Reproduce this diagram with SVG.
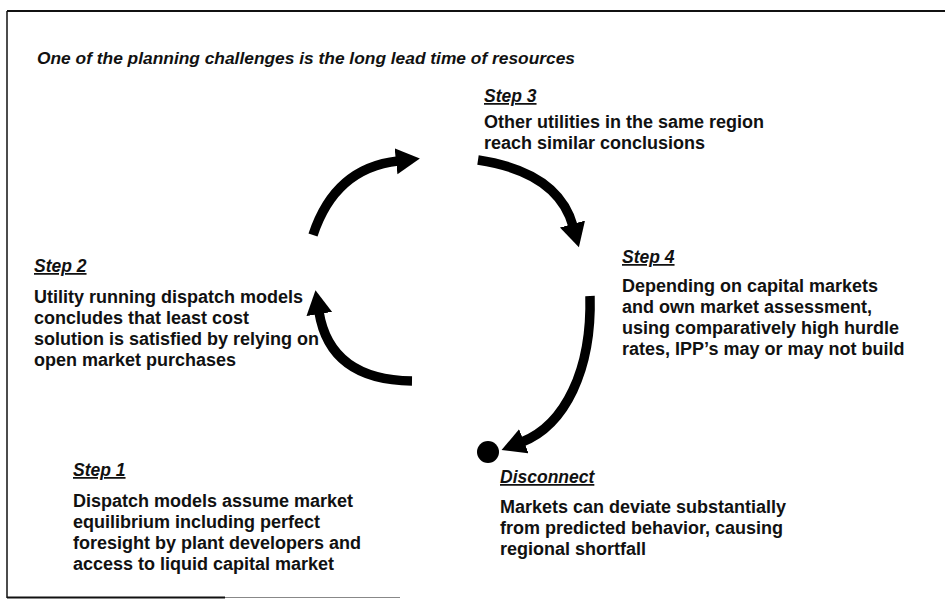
<svg xmlns="http://www.w3.org/2000/svg" width="945" height="610" viewBox="0 0 945 610">
<style>
text{font-family:"Liberation Sans",Arial,sans-serif;fill:#111;}
.t{font-size:17px;font-weight:bold;font-style:italic;}
.h{font-size:17.5px;font-weight:bold;font-style:italic;text-decoration:underline;}
.b{font-size:18px;font-weight:bold;}
.arc{fill:none;stroke:#000;stroke-width:9.5;}
</style>
<defs>
<marker id="ah" markerUnits="userSpaceOnUse" markerWidth="28" markerHeight="28" refX="2" refY="13" orient="auto" viewBox="0 0 28 28">
<path d="M0,0 L24,13 L0,26 z" fill="#000"/>
</marker>
</defs>
<rect width="945" height="610" fill="#fff"/>
<g id="frame" fill="none" stroke="#111">
<path d="M7,11 L945,11" stroke-width="2"/>
<path d="M7,11 L7,598" stroke-width="1.5"/>
<path d="M7,597.5 L225,597.5" stroke-width="2"/>
<path d="M225,597.5 L400,597.5" stroke-width="1" stroke="#888"/>
</g>
<text id="title" class="t" x="37" y="64" textLength="538" lengthAdjust="spacingAndGlyphs">One of the planning challenges is the long lead time of resources</text>
<g id="step3">
<text class="h" x="484" y="102">Step 3</text>
<text class="b" x="484" y="128">Other utilities in the same region</text>
<text class="b" x="484" y="149">reach similar conclusions</text>
</g>
<g id="step4">
<text class="h" x="622" y="263">Step 4</text>
<text class="b" x="622" y="292">Depending on capital markets</text>
<text class="b" x="622" y="313">and own market assessment,</text>
<text class="b" x="622" y="334">using comparatively high hurdle</text>
<text class="b" x="622" y="355">rates, IPP’s may or may not build</text>
</g>
<g id="step2">
<text class="h" x="34" y="272">Step 2</text>
<text class="b" x="34" y="303">Utility running dispatch models</text>
<text class="b" x="34" y="324">concludes that least cost</text>
<text class="b" x="34" y="345">solution is satisfied by relying on</text>
<text class="b" x="34" y="366">open market purchases</text>
</g>
<g id="step1">
<text class="h" x="73" y="476">Step 1</text>
<text class="b" x="73" y="507">Dispatch models assume market</text>
<text class="b" x="73" y="528">equilibrium including perfect</text>
<text class="b" x="73" y="549">foresight by plant developers and</text>
<text class="b" x="73" y="570">access to liquid capital market</text>
</g>
<g id="disconnect">
<circle cx="488" cy="452" r="11" fill="#000"/>
<text class="h" x="500" y="483">Disconnect</text>
<text class="b" x="500" y="513">Markets can deviate substantially</text>
<text class="b" x="500" y="534">from predicted behavior, causing</text>
<text class="b" x="500" y="555">regional shortfall</text>
</g>
<g id="connectors">
<path class="arc" d="M313,235 Q335,168 398,161" marker-end="url(#ah)"/>
<path class="arc" d="M478,160 Q558,172 573,226" marker-end="url(#ah)"/>
<path class="arc" d="M590,296 C592,370 565,425 522,442" marker-end="url(#ah)"/>
<path class="arc" d="M412,381 Q330,380 319,312" marker-end="url(#ah)"/>
</g>
</svg>
